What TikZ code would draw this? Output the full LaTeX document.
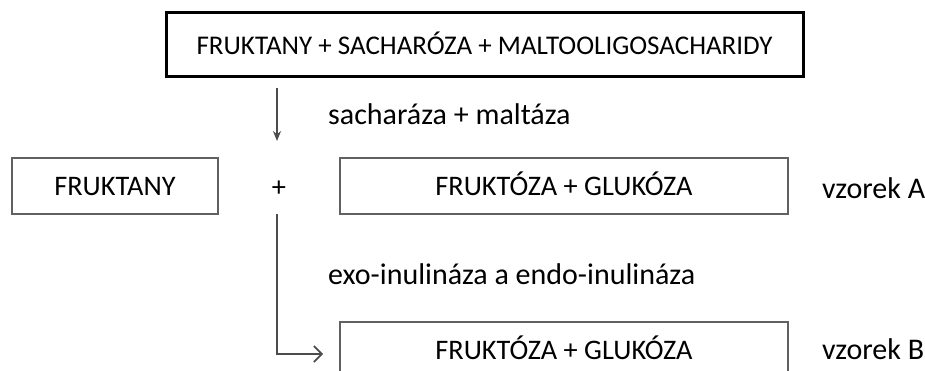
\documentclass[tikz,border=0pt]{standalone}
\usepackage{fontspec}
\setmainfont{Carlito}
\usetikzlibrary{arrows.meta}
\begin{document}
\begin{tikzpicture}[x=1pt,y=-1pt,
  txt/.style={font=\fontsize{28.3}{34}\selectfont, text=black, inner sep=0pt, text height=19pt, text depth=0pt},
  lab/.style={font=\fontsize{30}{36}\selectfont, text=black, inner sep=0pt, text height=19pt, text depth=0pt, anchor=west},
  graybox/.style={draw=black!62, line width=1.8pt, minimum height=56pt, inner sep=0pt},
  conn/.style={draw=black!70, line width=1.6pt}]
\useasboundingbox (0,0) rectangle (925,371);
\clip (0,0) rectangle (925,371);
% top box
\node[draw=black, line width=3pt, minimum width=637pt, minimum height=64pt, inner sep=0pt,
      txt, font=\fontsize{27}{32}\selectfont] (top) at (484.5,45) {FRUKTANY + SACHARÓZA + MALTOOLIGOSACHARIDY};
% first arrow
\coordinate (a1s) at (277,88);
\coordinate (a1e) at (277,141);
\draw[conn, -{Stealth[length=10pt,width=8pt]}] (a1s) -- (a1e);
\node[lab] (lab1) at (328,115) {sacharáza + maltáza};
% row A
\node[graybox, minimum width=206pt, txt] (fr) at (115,186) {FRUKTANY};
\node[txt] (plus) at (279,187) {+};
\node[graybox, minimum width=448pt, txt] (boxA) at (564,186) {FRUKTÓZA + GLUKÓZA};
\node[lab] (vzA) at (822,189) {vzorek A};
% second connector
\coordinate (b1) at (277,214);
\coordinate (b2) at (277,354);
\coordinate (b3) at (323,354);
\draw[conn, -{Straight Barb[length=8pt,width=16pt,line width=1.6pt]}] (b1) -- (b2) -- (b3);
\node[lab] (lab2) at (328,275) {exo-inulináza a endo-inulináza};
% row B
\node[graybox, minimum width=448pt, txt] (boxB) at (564,350) {FRUKTÓZA + GLUKÓZA};
\node[lab] (vzB) at (822,350) {vzorek B};
\end{tikzpicture}
\end{document}
